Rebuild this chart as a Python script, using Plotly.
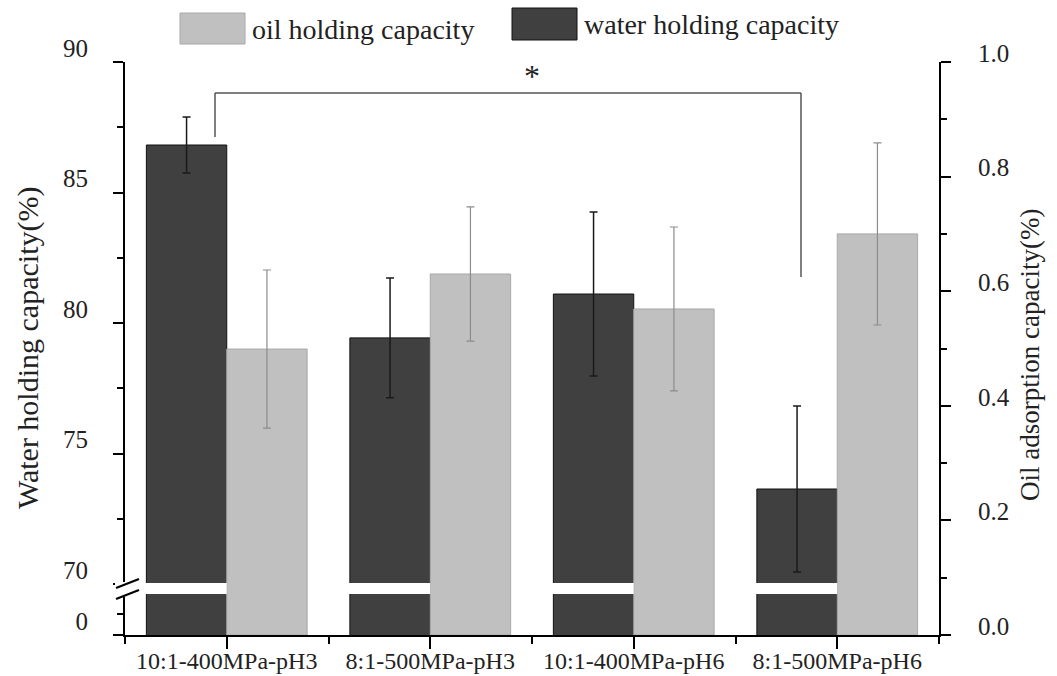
import plotly.graph_objects as go

# ---- data ----
categories = ["10:1-400MPa-pH3", "8:1-500MPa-pH3", "10:1-400MPa-pH6", "8:1-500MPa-pH6"]
water_holding = [86.82, 79.43, 81.11, 73.64]
water_err = [1.07, 2.29, 3.14, 3.18]
oil_holding = [0.499, 0.630, 0.569, 0.700]
oil_err = [0.138, 0.117, 0.143, 0.159]
left_ticks = [70, 75, 80, 85, 90]
left_minor = [72.5, 77.5, 82.5, 87.5]

# ---- geometry (pixels of the 1057x676 canvas) ----
W, H = 1057, 676
L, R, T, B = 125, 939, 62, 635
PW, PH = R - L, B - T
FONT = "Liberation Serif"

def px(x):
    return (x - L) / PW

def py(y):
    return (B - y) / PH

# left axis (upper segment of broken axis): 90 at top, 26.1 px per unit
px_per_unit = 26.1
left_min = 90 - PH / px_per_unit
low_minor = left_min + 21 / px_per_unit

xs = list(range(len(categories)))
bw = 0.395

fig = go.Figure()
fig.add_trace(go.Bar(
    x=xs, y=water_holding, width=bw, offset=-bw,
    marker=dict(color="#404040", line=dict(color="#111111", width=1)),
    error_y=dict(type="data", array=water_err, color="#1a1a1a", thickness=1.5, width=4),
    yaxis="y", name="water holding capacity", showlegend=False,
))
fig.add_trace(go.Bar(
    x=xs, y=oil_holding, width=bw, offset=0,
    marker=dict(color="#c0c0c0", line=dict(color="#a8a8a8", width=1)),
    error_y=dict(type="data", array=oil_err, color="#8c8c8c", thickness=1.2, width=4),
    yaxis="y2", name="oil holding capacity", showlegend=False,
))

shapes = []
annotations = []

# break gap across the dark bars
for i in xs:
    shapes.append(dict(type="rect", xref="x", yref="paper", x0=i - bw - 0.01, x1=i,
                       y0=py(594), y1=py(583), fillcolor="white", line=dict(width=0), layer="above"))
# break on left axis
shapes.append(dict(type="rect", xref="paper", yref="paper", x0=px(115), x1=px(135),
                   y0=py(597), y1=py(582), fillcolor="white", line=dict(width=0), layer="above"))
shapes.append(dict(type="line", xref="paper", yref="paper", x0=px(116), y0=py(588), x1=px(139), y1=py(579),
                   line=dict(color="black", width=2), layer="above"))
shapes.append(dict(type="line", xref="paper", yref="paper", x0=px(116), y0=py(599), x1=px(139), y1=py(590),
                   line=dict(color="black", width=2), layer="above"))
# x axis line extension to the left
shapes.append(dict(type="line", xref="paper", yref="paper", x0=px(116), y0=0, x1=0, y1=0,
                   line=dict(color="black", width=2), layer="above"))

# significance bracket
bc = "#555555"
shapes.append(dict(type="line", xref="paper", yref="paper", x0=px(215), y0=py(93), x1=px(801), y1=py(93),
                   line=dict(color=bc, width=1.5)))
shapes.append(dict(type="line", xref="paper", yref="paper", x0=px(215), y0=py(93), x1=px(215), y1=py(137),
                   line=dict(color=bc, width=1.5)))
shapes.append(dict(type="line", xref="paper", yref="paper", x0=px(801), y0=py(93), x1=px(801), y1=py(277),
                   line=dict(color=bc, width=1.5)))
annotations.append(dict(text="*", xref="paper", yref="paper", x=px(532), y=py(76), showarrow=False,
                        font=dict(family=FONT, size=32, color="#222222"), xanchor="center", yanchor="middle"))

# custom legend
shapes.append(dict(type="rect", xref="paper", yref="paper", x0=px(180), x1=px(245), y0=py(44), y1=py(13),
                   fillcolor="#c0c0c0", line=dict(color="#a8a8a8", width=1)))
annotations.append(dict(text="oil holding capacity", xref="paper", yref="paper", x=px(250), y=py(29),
                        showarrow=False, xanchor="left", yanchor="middle",
                        font=dict(family=FONT, size=28, color="#222222")))
shapes.append(dict(type="rect", xref="paper", yref="paper", x0=px(512), x1=px(577), y0=py(40), y1=py(8),
                   fillcolor="#404040", line=dict(color="#111111", width=1)))
annotations.append(dict(text="water holding capacity", xref="paper", yref="paper", x=px(582), y=py(25),
                        showarrow=False, xanchor="left", yanchor="middle",
                        font=dict(family=FONT, size=28, color="#222222")))

# axis titles
annotations.append(dict(text="Water holding capacity(%)", xref="paper", yref="paper", x=px(28), y=py(348),
                        showarrow=False, textangle=-90, xanchor="center", yanchor="middle",
                        font=dict(family=FONT, size=30, color="#222222")))
annotations.append(dict(text="Oil adsorption capacity(%)", xref="paper", yref="paper", x=px(1030), y=py(355),
                        showarrow=False, textangle=-90, xanchor="center", yanchor="middle",
                        font=dict(family=FONT, size=27, color="#222222")))

tickfont = dict(family=FONT, size=25, color="#222222")

fig.update_layout(
    width=W, height=H,
    margin=dict(l=L, r=W - R, t=T, b=H - B, pad=0, autoexpand=False),
    paper_bgcolor="white", plot_bgcolor="white",
    barmode="overlay",
    showlegend=False,
    shapes=shapes, annotations=annotations,
    xaxis=dict(
        range=[-0.5, len(categories) - 0.5], automargin=False,
        tickmode="array", tickvals=xs, ticktext=categories,
        ticks="outside", ticklen=12, tickwidth=2, tickcolor="black",
        minor=dict(tickmode="array", tickvals=[i - 0.5 for i in range(len(categories) + 1)],
                   ticks="outside", ticklen=7, tickwidth=2, tickcolor="black"),
        showline=True, linecolor="black", linewidth=2,
        showgrid=False, zeroline=False,
        tickfont=dict(family=FONT, size=24, color="#222222"), ticklabelstandoff=-9,
    ),
    yaxis=dict(
        range=[left_min, 90], automargin=False,
        tickmode="array", tickvals=[left_min] + left_ticks,
        ticktext=["0"] + [str(v) for v in left_ticks],
        ticks="outside", ticklen=10, tickwidth=2, tickcolor="black",
        minor=dict(tickmode="array", tickvals=[low_minor] + left_minor,
                   ticks="outside", ticklen=6, tickwidth=2, tickcolor="black"),
        showline=True, linecolor="black", linewidth=2,
        showgrid=False, zeroline=False,
        tickfont=tickfont, ticklabelshift=-14, ticklabelstandoff=20,
    ),
    yaxis2=dict(
        overlaying="y", side="right", automargin=False,
        range=[0, 1], tickmode="linear", tick0=0, dtick=0.2, tickformat=".1f",
        ticks="outside", ticklen=10, tickwidth=2, tickcolor="black",
        minor=dict(dtick=0.1, ticks="outside", ticklen=6, tickwidth=2, tickcolor="black"),
        showline=True, linecolor="black", linewidth=2,
        showgrid=False, zeroline=False,
        tickfont=tickfont, ticklabelshift=-9, ticklabelstandoff=22,
    ),
)

fig.write_html("out.html")
